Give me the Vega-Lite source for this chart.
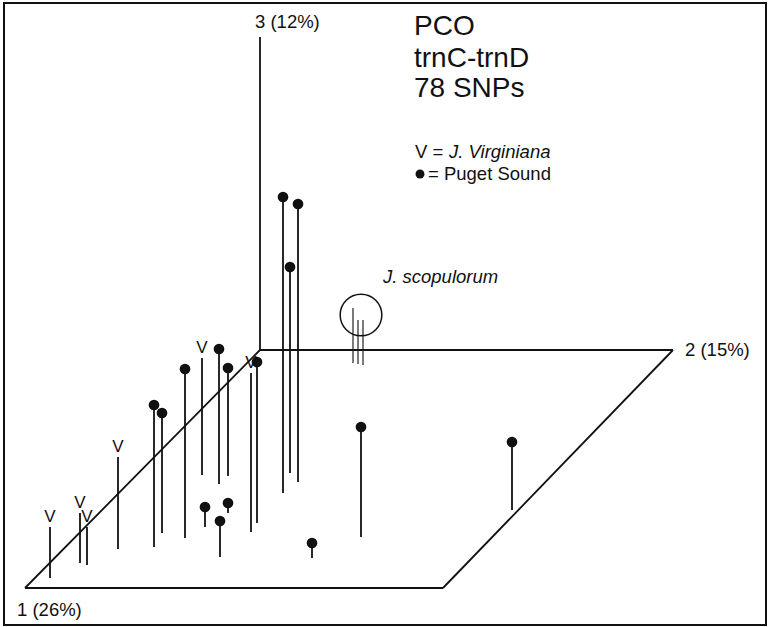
{
  "$schema": "https://vega.github.io/schema/vega-lite/v6.json",
  "width": 768,
  "height": 627,
  "autosize": {"type": "fit", "contains": "padding"},
  "padding": 0,
  "background": "white",
  "config": {"view": {"stroke": null}},
  "datasets": {
    "frame": [{"x": 4, "x2": 766, "y": 3, "y2": 625}],
    "axes": [
      {"x": 260, "y": 350, "x2": 260, "y2": 37},
      {"x": 260, "y": 350, "x2": 673, "y2": 350},
      {"x": 260, "y": 350, "x2": 25, "y2": 588},
      {"x": 25, "y": 588, "x2": 443, "y2": 588},
      {"x": 443, "y": 588, "x2": 673, "y2": 350}
    ],
    "virginiana": [
      {"x": 50, "y": 527, "y2": 578},
      {"x": 80, "y": 513, "y2": 563},
      {"x": 87, "y": 527, "y2": 565},
      {"x": 118, "y": 457, "y2": 549},
      {"x": 202, "y": 358, "y2": 475},
      {"x": 251, "y": 373, "y2": 532}
    ],
    "puget": [
      {"x": 154, "y": 405, "y2": 547},
      {"x": 162, "y": 413, "y2": 533},
      {"x": 185, "y": 369, "y2": 538},
      {"x": 219, "y": 349, "y2": 484},
      {"x": 228, "y": 368, "y2": 476},
      {"x": 257, "y": 362, "y2": 523},
      {"x": 205, "y": 507, "y2": 527},
      {"x": 228, "y": 503, "y2": 513},
      {"x": 220, "y": 521, "y2": 557},
      {"x": 283, "y": 197, "y2": 493},
      {"x": 298, "y": 204, "y2": 482},
      {"x": 290, "y": 267, "y2": 473},
      {"x": 361, "y": 427, "y2": 537},
      {"x": 512, "y": 442, "y2": 510},
      {"x": 312, "y": 543, "y2": 558}
    ],
    "scopulorum": [
      {"x": 353, "y": 308, "y2": 363},
      {"x": 358, "y": 320, "y2": 364},
      {"x": 363, "y": 320, "y2": 365}
    ],
    "scopCircle": [{"x": 361, "y": 315}],
    "axisLabels": [
      {"x": 255, "y": 22, "label": "3 (12%)"},
      {"x": 685, "y": 350, "label": "2 (15%)"},
      {"x": 17, "y": 610, "label": "1 (26%)"}
    ],
    "titleLines": [
      {"x": 414, "y": 35, "label": "PCO"},
      {"x": 414, "y": 67, "label": "trnC-trnD"},
      {"x": 414, "y": 97, "label": "78 SNPs"}
    ],
    "legendPlain": [
      {"x": 415, "y": 152, "label": "V ="},
      {"x": 428, "y": 174, "label": "= Puget Sound"}
    ],
    "legendItalic": [
      {"x": 449, "y": 152, "label": "J. Virginiana"},
      {"x": 383, "y": 277, "label": "J. scopulorum"}
    ],
    "legendDot": [{"x": 420, "y": 174}]
  },
  "encoding": {
    "x": {"field": "x", "type": "quantitative", "scale": {"domain": [0, 768], "nice": false, "zero": false}, "axis": null},
    "y": {"field": "y", "type": "quantitative", "scale": {"domain": [0, 627], "nice": false, "zero": false, "reverse": true}, "axis": null}
  },
  "layer": [
    {
      "data": {"name": "frame"},
      "mark": {"type": "rect", "fill": null, "stroke": "#111", "strokeWidth": 2},
      "encoding": {"x2": {"field": "x2"}, "y2": {"field": "y2"}}
    },
    {
      "data": {"name": "axes"},
      "mark": {"type": "rule", "color": "#111", "strokeWidth": 1.8},
      "encoding": {"x2": {"field": "x2"}, "y2": {"field": "y2"}}
    },
    {
      "data": {"name": "virginiana"},
      "mark": {"type": "rule", "color": "#111", "strokeWidth": 1.8},
      "encoding": {"y2": {"field": "y2"}}
    },
    {
      "data": {"name": "virginiana"},
      "mark": {"type": "text", "text": "V", "font": "Liberation Sans", "fontSize": 17, "baseline": "bottom", "align": "center", "dy": -1, "color": "#111"}
    },
    {
      "data": {"name": "puget"},
      "mark": {"type": "rule", "color": "#111", "strokeWidth": 1.8},
      "encoding": {"y2": {"field": "y2"}}
    },
    {
      "data": {"name": "puget"},
      "mark": {"type": "point", "shape": "circle", "filled": true, "size": 115, "color": "#111", "opacity": 1}
    },
    {
      "data": {"name": "scopulorum"},
      "mark": {"type": "rule", "color": "#222", "strokeWidth": 1.2},
      "encoding": {"y2": {"field": "y2"}}
    },
    {
      "data": {"name": "scopCircle"},
      "mark": {"type": "point", "shape": "circle", "filled": false, "size": 1735, "color": "#111", "strokeWidth": 1.5, "opacity": 1}
    },
    {
      "data": {"name": "axisLabels"},
      "mark": {"type": "text", "font": "Liberation Sans", "fontSize": 18.5, "align": "left", "baseline": "middle", "color": "#111"},
      "encoding": {"text": {"field": "label"}}
    },
    {
      "data": {"name": "titleLines"},
      "mark": {"type": "text", "font": "Liberation Sans", "fontSize": 28, "align": "left", "baseline": "alphabetic", "color": "#111"},
      "encoding": {"text": {"field": "label"}}
    },
    {
      "data": {"name": "legendPlain"},
      "mark": {"type": "text", "font": "Liberation Sans", "fontSize": 18.5, "align": "left", "baseline": "middle", "color": "#111"},
      "encoding": {"text": {"field": "label"}}
    },
    {
      "data": {"name": "legendItalic"},
      "mark": {"type": "text", "font": "Liberation Sans", "fontStyle": "italic", "fontSize": 18.5, "align": "left", "baseline": "middle", "color": "#111"},
      "encoding": {"text": {"field": "label"}}
    },
    {
      "data": {"name": "legendDot"},
      "mark": {"type": "point", "shape": "circle", "filled": true, "size": 80, "color": "#111", "opacity": 1}
    }
  ]
}
